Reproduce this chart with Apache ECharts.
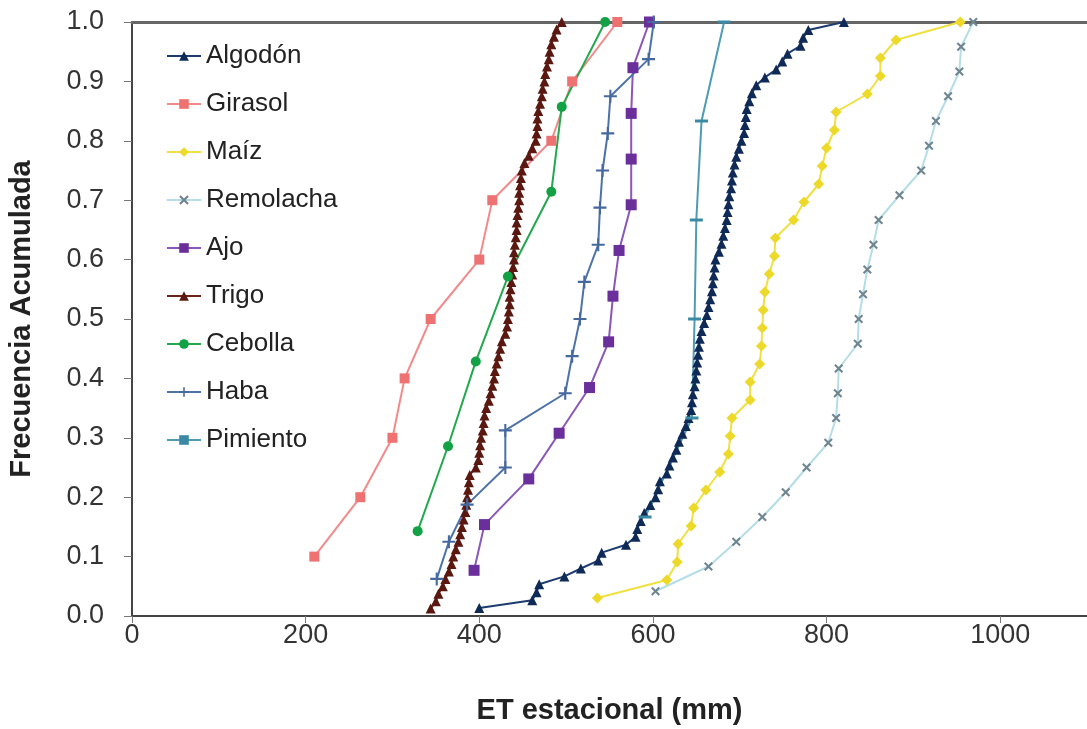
<!DOCTYPE html>
<html>
<head>
<meta charset="utf-8">
<script src="https://cdn.jsdelivr.net/npm/echarts@6/dist/echarts.min.js"></script>
<style>
  html, body { margin: 0; padding: 0; background: #fff; }
  #chart { width: 1087px; height: 729px; }
</style>
</head>
<body>
<div id="chart"></div>
<script>
// ET estacional (mm) ordenada, cada serie; la frecuencia acumulada es rango/n
var algodon = [400, 461, 466, 469, 498, 517, 537, 541, 569, 580, 582, 586, 590, 597, 603, 606, 608, 616, 619, 623,
    627, 630, 634, 638, 641, 644, 645, 646, 648, 649, 650, 651, 652, 653, 654, 656, 659, 662, 664, 666,
    668, 669, 670, 671, 672, 676, 679, 681, 683, 685, 686, 687, 688, 690, 691, 692, 694, 696, 699, 702,
    705, 706, 707, 708, 711, 714, 719, 729, 742, 749, 755, 770, 773, 779, 820];
var girasol = [210, 263, 300, 314, 344, 400, 415, 483, 507, 559];
var maiz = [536, 616, 628, 629, 644, 647, 661, 677, 687, 689, 691, 712, 712, 723, 725, 726, 727, 729, 734, 740,
    741, 762, 774, 791, 795, 800, 809, 811, 847, 862, 862, 880, 954];
var remolacha = [603, 664, 696, 726, 753, 777, 802, 811, 813, 814, 836, 837, 842, 847, 854, 860, 884, 909, 918, 926,
    940, 953, 955, 969];
var ajo = [394, 406, 457, 492, 527, 549, 554, 561, 575, 575, 575, 577, 596];
var trigo = [344, 350, 353, 358, 361, 365, 368, 370, 373, 376, 378, 380, 382, 384, 385, 386, 387, 388, 389, 396,
    399, 400, 401, 402, 404, 405, 406, 408, 411, 413, 415, 417, 418, 420, 422, 424, 426, 430, 432, 433,
    434, 435, 435, 436, 437, 438, 439, 440, 440, 441, 442, 443, 443, 444, 445, 446, 446, 447, 448, 449,
    452, 457, 461, 465, 466, 467, 467, 468, 470, 472, 473, 475, 476, 478, 480, 481, 483, 486, 489, 495];
var cebolla = [329, 364, 396, 433, 483, 495, 545];
var haba = [351, 365, 386, 430, 430, 499, 507, 516, 521, 537, 539, 542, 548, 551, 595, 601];
var pimiento = [591, 645, 648, 650, 656, 682];

var xTicks = [0, 200, 400, 600, 800, 1000];

var crossPath = 'path://M0,1.6L1.6,0L5,3.4L8.4,0L10,1.6L6.6,5L10,8.4L8.4,10L5,6.6L1.6,10L0,8.4L3.4,5Z';
var plusPath = 'path://M4.2,0H5.8V4.2H10V5.8H5.8V10H4.2V5.8H0V4.2H4.2Z';

function cumul(vals) {
    var n = vals.length;
    return vals.map(function (v, i) { return [v, (i + 1) / n]; });
}

function serie(name, vals, lineColor, symbol, size, markColor) {
    return {
        name: name,
        type: 'line',
        data: cumul(vals),
        symbol: symbol,
        symbolSize: size,
        showAllSymbol: true,
        lineStyle: { color: lineColor, width: 2 },
        itemStyle: { color: markColor || lineColor },
        z: 3
    };
}

var chart = echarts.init(document.getElementById('chart'));

var option = {
    animation: false,
    backgroundColor: '#fff',
    textStyle: { fontFamily: '"Liberation Sans", Arial, sans-serif', color: '#222' },
    grid: { left: 132, top: 22, width: 955, height: 594, outerBoundsMode: 'none', containLabel: false },
    legend: {
        orient: 'vertical',
        left: 161,
        top: 38,
        itemWidth: 34,
        itemHeight: 12,
        itemGap: 22,
        textStyle: { fontSize: 26, color: '#222', lineHeight: 26 },
        data: ['Algodón', 'Girasol', 'Maíz', 'Remolacha', 'Ajo', 'Trigo', 'Cebolla', 'Haba', 'Pimiento']
    },
    xAxis: [{
        type: 'value',
        min: 0,
        max: 1100,
        interval: 200,
        name: 'ET estacional (mm)',
        nameLocation: 'middle',
        nameGap: 80,
        nameTextStyle: { fontSize: 29, fontWeight: 'bold', color: '#222' },
        axisLine: { show: true, lineStyle: { color: '#444', width: 2 } },
        axisTick: { show: true, length: 7, customValues: xTicks, lineStyle: { color: '#777' } },
        axisLabel: {
            fontSize: 27, color: '#333', margin: 6, customValues: xTicks,
            formatter: function (v) { return String(v); }
        },
        splitLine: { show: false }
    }, {
        type: 'value',
        position: 'top',
        min: 0,
        max: 1100,
        axisLine: { show: true, lineStyle: { color: '#666', width: 3 } },
        axisTick: { show: false },
        axisLabel: { show: false },
        splitLine: { show: false }
    }],
    yAxis: {
        type: 'value',
        min: 0,
        max: 1,
        interval: 0.1,
        name: 'Frecuencia Acumulada',
        nameLocation: 'middle',
        nameGap: 96,
        nameTextStyle: { fontSize: 29, fontWeight: 'bold', color: '#222' },
        axisLine: { show: true, lineStyle: { color: '#444', width: 2 } },
        axisTick: { show: true, length: 8, lineStyle: { color: '#777' } },
        axisLabel: {
            fontSize: 27, color: '#333', margin: 28,
            formatter: function (v) { return v.toFixed(1); }
        },
        splitLine: { show: false }
    },
    series: [
        serie('Algodón', algodon, '#1d3b6e', 'triangle', 10, '#0f2a57'),
        serie('Girasol', girasol, '#f28a8a', 'rect', 10, '#ee7272'),
        serie('Maíz', maiz, '#f0e040', 'diamond', 11, '#ecd92a'),
        serie('Remolacha', remolacha, '#b5dde8', crossPath, 9, '#6f8590'),
        serie('Ajo', ajo, '#8a56b8', 'rect', 11, '#6a2f9a'),
        serie('Trigo', trigo, '#6b2318', 'triangle', 10, '#5a1810'),
        serie('Cebolla', cebolla, '#22a84f', 'circle', 10, '#12a245'),
        serie('Haba', haba, '#4d72a8', plusPath, 13, '#45699e'),
        serie('Pimiento', pimiento, '#4d9cb3', 'rect', [13, 3], '#3a8aa3')
    ]
};

chart.setOption(option);
</script>
</body>
</html>
